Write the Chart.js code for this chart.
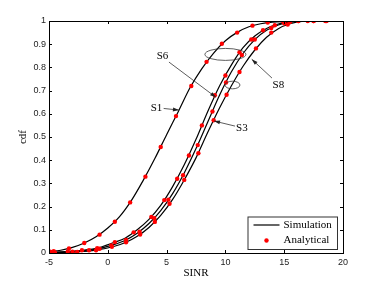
<!DOCTYPE html>
<html lang="en">
<head>
  <meta charset="UTF-8">
  <title>SINR cdf</title>
  <script src="https://cdn.jsdelivr.net/npm/chart.js"></script>
  <style>
    body { margin: 0; background: #fff; }
    #box { width: 379px; height: 286px; }
  </style>
</head>
<body>
<div id="box"><canvas id="cdfChart"></canvas></div>

<script>
  // axis ticks
  const xTicks = [-5, 0, 5, 10, 15, 20];
  const xTickLabels = ['-5', '0', '5', '10', '15', '20'];
  const yTicks = [0, 0.1, 0.2, 0.3, 0.4, 0.5, 0.6, 0.7, 0.8, 0.9, 1];
  const yTickLabels = ['0', '0.1', '0.2', '0.3', '0.4', '0.5', '0.6', '0.7', '0.8', '0.9', '1'];

  const curveNames = ['S1', 'S6', 'S3', 'S8'];
  const legendLabels = ['Simulation', 'Analytical'];

  // simulation curves (SINR in dB, cdf)
  const s1SimX = [-5, -4, -3, -2, -1, 0, 1, 2, 3, 4, 5, 6, 7, 8, 9, 10, 11, 12, 13, 14, 15, 16, 17, 18.6];
  const s1SimY = [0.006, 0.012, 0.024, 0.043, 0.07, 0.108, 0.157, 0.226, 0.312, 0.407, 0.51, 0.61, 0.713, 0.795, 0.862, 0.915, 0.951, 0.975, 0.988, 0.995, 0.998, 1, 1, 1];

  const clusterSimX = [-5, -3, -1, 0.5, 1.5, 2.5, 3.5, 4.5, 5.5, 6.5, 7.5, 8.5, 9.5, 10.5, 11.5, 12.5, 13.5, 14.5, 15.5, 16.5, 18.6];
  const s6SimY = [0.003, 0.008, 0.02, 0.045, 0.065, 0.1, 0.145, 0.205, 0.285, 0.38, 0.49, 0.61, 0.72, 0.81, 0.885, 0.935, 0.968, 0.987, 0.996, 1, 1];
  const s3SimY = [0.002, 0.006, 0.016, 0.036, 0.055, 0.085, 0.127, 0.183, 0.255, 0.345, 0.45, 0.565, 0.68, 0.78, 0.86, 0.92, 0.96, 0.983, 0.995, 1, 1];
  const s8SimY = [0.001, 0.004, 0.012, 0.028, 0.045, 0.072, 0.11, 0.162, 0.23, 0.315, 0.41, 0.52, 0.625, 0.72, 0.805, 0.875, 0.93, 0.967, 0.988, 0.998, 1];

  // analytical points
  const s1AnaX = [-4.9, -4.6, -3.3, -2.0, -0.7, 0.6, 1.9, 3.2, 4.5, 5.8, 7.1, 8.4, 9.7, 11.0, 12.3, 13.6, 14.9, 16.2, 17.5, 18.5];
  const s1AnaY = [0.006, 0.008, 0.02, 0.043, 0.079, 0.135, 0.218, 0.329, 0.457, 0.59, 0.72, 0.824, 0.902, 0.95, 0.98, 0.993, 0.998, 1, 1, 1];
  const s6AnaX = [-4.9, -3.4, -2.2, -0.9, 0.6, 2.2, 3.7, 4.8, 5.9, 6.9, 8.0, 9.1, 10.0, 11.2, 12.2, 13.2, 14.2, 15.5, 17.5];
  const s6AnaY = [0.003, 0.007, 0.012, 0.021, 0.047, 0.089, 0.155, 0.228, 0.32, 0.42, 0.55, 0.68, 0.765, 0.865, 0.92, 0.96, 0.982, 0.996, 1];
  const s3AnaX = [-4.7, -3.0, -1.6, -0.7, 0.3, 1.55, 2.7, 3.95, 5.15, 6.4, 7.65, 8.9, 10.05, 11.4, 12.5, 13.9, 15.0, 16.2];
  const s3AnaY = [0.002, 0.006, 0.012, 0.018, 0.033, 0.056, 0.092, 0.15, 0.23, 0.335, 0.465, 0.61, 0.735, 0.853, 0.92, 0.97, 0.99, 1];
  const s8AnaX = [-4.5, -2.6, -1.0, 0.35, 1.55, 2.75, 4.0, 5.25, 6.5, 7.7, 9.0, 10.1, 11.2, 12.6, 13.9, 15.3, 17.0, 18.6];
  const s8AnaY = [0.002, 0.005, 0.012, 0.027, 0.046, 0.08, 0.134, 0.212, 0.315, 0.43, 0.572, 0.682, 0.78, 0.882, 0.95, 0.985, 1, 1];

  const pts = (xs, ys) => xs.map((v, i) => ({ x: v, y: ys[i] }));

  const simLine = (name, xs, ys) => ({
    label: name + ' ' + legendLabels[0],
    data: pts(xs, ys),
    showLine: true,
    borderColor: '#000',
    borderWidth: 1.2,
    pointRadius: 0,
    cubicInterpolationMode: 'monotone',
    order: 2
  });
  const anaDots = (name, xs, ys) => ({
    label: name + ' ' + legendLabels[1],
    data: pts(xs, ys),
    showLine: false,
    pointRadius: 2.2,
    pointBackgroundColor: '#ff0000',
    pointBorderWidth: 0,
    order: 1
  });

  const serif = '"Liberation Serif", "Times New Roman", serif';

  function arrow(ctx, x1, y1, x2, y2, head) {
    ctx.beginPath();
    ctx.moveTo(x1, y1);
    ctx.lineTo(x2, y2);
    ctx.stroke();
    if (!head) return;
    const a = Math.atan2(y2 - y1, x2 - x1);
    ctx.beginPath();
    ctx.moveTo(x2, y2);
    ctx.lineTo(x2 - 6 * Math.cos(a) + 2 * Math.sin(a), y2 - 6 * Math.sin(a) - 2 * Math.cos(a));
    ctx.lineTo(x2 - 6 * Math.cos(a) - 2 * Math.sin(a), y2 - 6 * Math.sin(a) + 2 * Math.cos(a));
    ctx.closePath();
    ctx.fill();
  }

  const decorations = {
    id: 'decorations',
    afterDatasetsDraw(chart) {
      const { ctx, chartArea: a, scales: { x, y } } = chart;
      const px = v => x.getPixelForValue(v);
      const py = v => y.getPixelForValue(v);
      ctx.save();

      // annotations: labels, arrows, ellipses (placed in data coordinates)
      ctx.strokeStyle = '#333';
      ctx.fillStyle = '#222';
      ctx.lineWidth = 0.8;
      const notes = [
        { t: curveNames[0], tx: 4.14, ty: 0.625, from: [4.75, 0.623], to: [6.05, 0.616], head: true },
        { t: curveNames[1], tx: 4.65, ty: 0.848, from: [5.2, 0.823], to: [9.2, 0.671], head: true },
        { t: curveNames[2], tx: 11.4, ty: 0.539, from: [10.82, 0.547], to: [9.03, 0.569], head: true },
        { t: curveNames[3], tx: 14.5, ty: 0.722, from: [13.96, 0.754], to: [12.24, 0.835], head: true }
      ];
      notes.forEach(n => {
        arrow(ctx, px(n.from[0]), py(n.from[1]), px(n.to[0]), py(n.to[1]), n.head);
      });
      ctx.beginPath();
      ctx.ellipse(px(10.0), py(0.856), 20.5, 6, 0, 0, Math.PI * 2);
      ctx.stroke();
      ctx.beginPath();
      ctx.ellipse(px(10.6), py(0.724), 7.5, 3.8, 0, 0, Math.PI * 2);
      ctx.stroke();

      ctx.fillStyle = '#000';
      ctx.font = '11px ' + serif;
      ctx.textAlign = 'center';
      ctx.textBaseline = 'middle';
      notes.forEach(n => ctx.fillText(n.t, px(n.tx), py(n.ty)));

      // axes box with inward ticks
      ctx.strokeStyle = '#000';
      ctx.lineWidth = 1;
      ctx.strokeRect(a.left + 0.5, a.top + 0.5, a.right - a.left, a.bottom - a.top);
      ctx.beginPath();
      xTicks.forEach(v => {
        const p = Math.round(px(v)) + 0.5;
        ctx.moveTo(p, a.bottom); ctx.lineTo(p, a.bottom - 3);
        ctx.moveTo(p, a.top); ctx.lineTo(p, a.top + 3);
      });
      yTicks.forEach(v => {
        const p = Math.round(py(v)) + 0.5;
        ctx.moveTo(a.left, p); ctx.lineTo(a.left + 3, p);
        ctx.moveTo(a.right, p); ctx.lineTo(a.right - 3, p);
      });
      ctx.stroke();

      // axis titles
      ctx.fillStyle = '#000';
      ctx.font = '11px ' + serif;
      ctx.fillText('SINR', (a.left + a.right) / 2, 273);
      ctx.save();
      ctx.translate(23, (a.top + a.bottom) / 2);
      ctx.rotate(-Math.PI / 2);
      ctx.fillText('cdf', 0, 0);
      ctx.restore();

      // legend in lower right corner
      const lx = a.right - 95.5, ly = a.bottom - 36.5, lw = 89.5, lh = 32.5;
      ctx.fillStyle = '#fff';
      ctx.fillRect(lx, ly, lw, lh);
      ctx.strokeStyle = '#333';
      ctx.strokeRect(lx + 0.5, ly + 0.5, lw, lh);
      ctx.strokeStyle = '#000';
      ctx.lineWidth = 1.2;
      ctx.beginPath();
      ctx.moveTo(lx + 6, ly + 8.5);
      ctx.lineTo(lx + 32, ly + 8.5);
      ctx.stroke();
      ctx.fillStyle = '#ff0000';
      ctx.beginPath();
      ctx.arc(lx + 19, ly + 24, 2.2, 0, Math.PI * 2);
      ctx.fill();
      ctx.fillStyle = '#000';
      ctx.textAlign = 'left';
      ctx.fillText(legendLabels[0], lx + 36, ly + 8.5);
      ctx.fillText(legendLabels[1], lx + 36, ly + 24);

      ctx.restore();
    }
  };

  const ctx = document.getElementById('cdfChart').getContext('2d');
  const cdfChart = new Chart(ctx, {
    type: 'scatter',
    data: {
      datasets: [
        anaDots(curveNames[0], s1AnaX, s1AnaY),
        anaDots(curveNames[1], s6AnaX, s6AnaY),
        anaDots(curveNames[2], s3AnaX, s3AnaY),
        anaDots(curveNames[3], s8AnaX, s8AnaY),
        simLine(curveNames[0], s1SimX, s1SimY),
        simLine(curveNames[1], clusterSimX, s6SimY),
        simLine(curveNames[2], clusterSimX, s3SimY),
        simLine(curveNames[3], clusterSimX, s8SimY)
      ]
    },
    options: {
      responsive: true,
      maintainAspectRatio: false,
      animation: false,
      layout: { padding: { top: 21, right: 36, left: 0, bottom: 0 } },
      plugins: { legend: { display: false }, tooltip: { enabled: false } },
      scales: {
        x: {
          type: 'linear',
          min: -5, max: 20,
          afterBuildTicks: s => { s.ticks = xTicks.map(v => ({ value: v })); },
          afterFit: s => { s.height = 33; },
          grid: { display: false, drawTicks: false },
          border: { display: false },
          ticks: {
            padding: 4,
            maxRotation: 0,
            color: '#222',
            font: { family: '"Liberation Sans", Arial, sans-serif', size: 9 },
            callback: (v, i) => xTickLabels[i]
          }
        },
        y: {
          type: 'linear',
          min: 0, max: 1,
          afterBuildTicks: s => { s.ticks = yTicks.map(v => ({ value: v })); },
          afterFit: s => { s.width = 49; },
          grid: { display: false, drawTicks: false },
          border: { display: false },
          ticks: {
            padding: 3,
            color: '#222',
            font: { family: '"Liberation Sans", Arial, sans-serif', size: 9 },
            callback: (v, i) => yTickLabels[i]
          }
        }
      }
    },
    plugins: [decorations]
  });
</script>
</body>
</html>
